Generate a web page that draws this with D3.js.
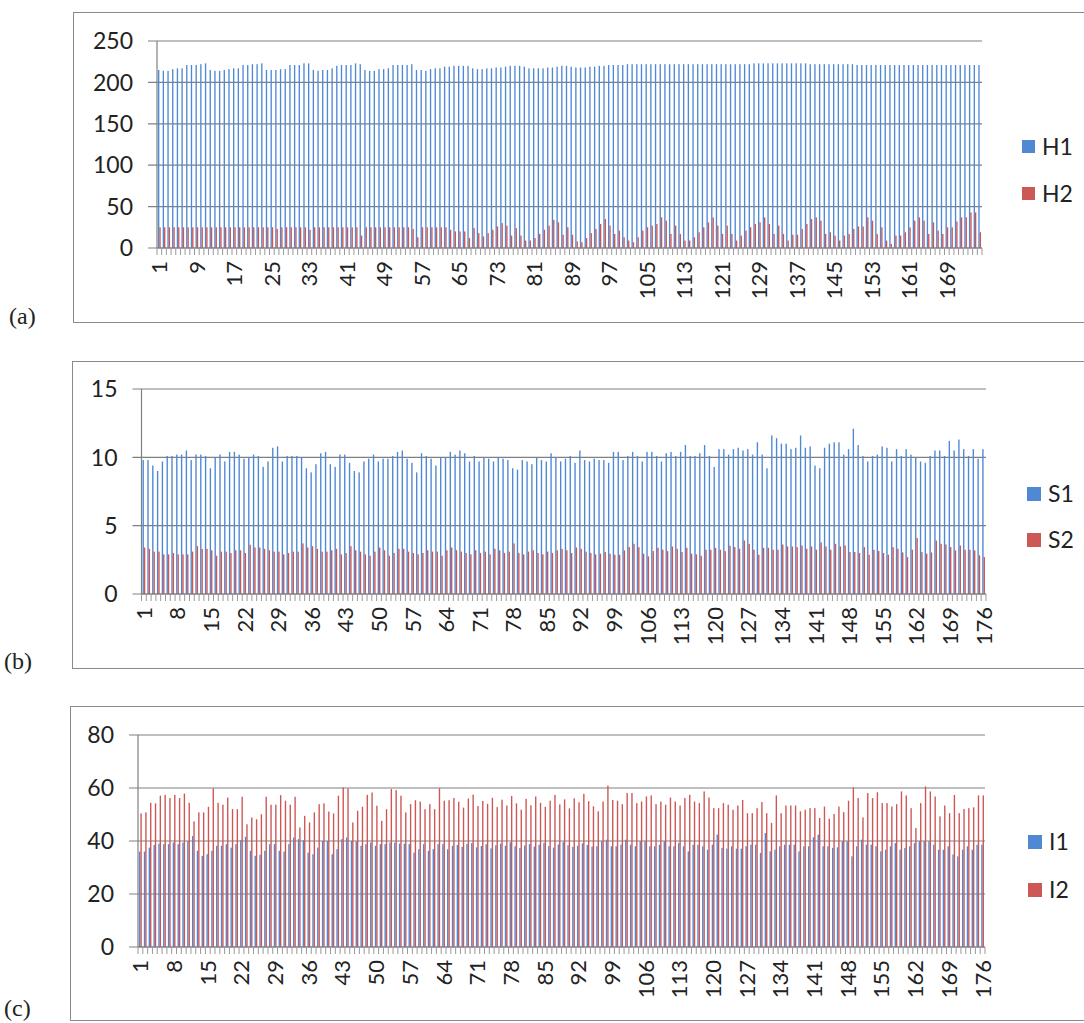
<!DOCTYPE html>
<html>
<head>
<meta charset="utf-8">
<script src="https://cdn.jsdelivr.net/npm/d3@7"></script>
<style>
  body { margin: 0; background: #fff; }
  svg { display: block; }
  text { font-family: Lato, "Open Sans", sans-serif; fill: #222; }
  .plabel { font-family: "Liberation Serif", "DejaVu Serif", serif; }
</style>
</head>
<body>
<script>
var categories = d3.range(1, 177);

var ticksA = [0, 50, 100, 150, 200, 250];
var ticksB = [0, 5, 10, 15];
var ticksC = [0, 20, 40, 60, 80];

var H1 = [215,214,214,216,217,217,221,221,221,222,223,215,214,214,215,216,217,217,221,221,222,222,223,215,215,
  215,216,216,221,221,221,223,223,215,214,215,215,217,220,221,221,221,223,222,215,214,214,216,216,217,
  221,221,221,221,222,215,215,214,216,217,217,219,219,220,220,220,220,217,216,216,217,217,218,218,219,
  220,220,220,219,217,217,217,217,218,218,219,220,220,219,218,218,218,219,219,220,220,221,221,221,221,
  222,222,222,222,222,222,222,222,222,222,222,222,222,222,222,222,222,222,222,222,222,222,222,222,222,
  222,222,223,223,223,223,223,223,223,223,223,223,223,223,222,222,222,222,222,222,222,222,222,222,221,
  221,221,221,221,221,221,221,221,221,221,221,221,221,221,221,221,221,221,221,221,221,221,221,221,221,221];
var H2 = [25,25,25,25,25,25,25,25,25,25,25,25,25,25,25,25,25,25,25,25,25,25,25,25,25,
  23,25,25,25,25,25,25,22,25,25,25,25,25,25,25,25,25,25,15,25,25,25,25,25,25,
  25,25,25,25,23,13,25,25,25,25,25,25,22,20,20,20,12,24,18,14,18,22,26,30,27,
  15,24,15,9,9,12,17,22,27,34,31,16,25,16,8,7,12,18,23,29,35,27,17,21,13,
  9,7,13,21,25,27,29,37,33,17,27,17,9,9,13,19,25,31,37,27,17,27,17,9,15,
  21,25,29,31,37,29,17,27,17,9,16,16,23,29,35,37,33,17,19,15,9,15,17,23,26,
  26,37,33,17,25,9,5,15,15,19,25,33,37,33,17,31,21,17,25,25,32,37,37,43,43,19];

var S1 = [9.8,9.8,9.4,9.0,9.7,10.1,10.1,10.2,10.2,10.5,9.8,10.2,10.2,10.1,9.2,10.0,10.2,9.7,10.4,10.4,10.2,9.9,10.0,10.2,10.1,
  9.3,9.7,10.7,10.8,9.7,10.1,10.1,10.1,10.0,9.2,8.9,9.5,10.3,10.4,9.5,9.3,10.2,10.2,9.6,9.0,8.9,9.7,9.9,10.2,9.7,
  9.9,9.9,10.1,10.4,10.5,9.9,9.6,8.9,10.3,10.1,9.9,9.4,10.0,10.0,10.4,10.2,10.5,10.3,9.7,10.1,9.7,10.0,9.9,9.7,10.0,
  9.9,9.8,9.2,9.1,9.8,9.7,9.5,10.0,9.8,9.7,10.3,10.0,9.7,9.9,10.1,9.6,10.5,9.8,9.7,9.9,9.8,9.8,9.6,10.4,10.4,
  9.8,10.1,10.4,10.1,9.7,10.4,10.4,10.1,9.7,10.3,10.4,10.1,10.4,10.9,10.1,10.1,10.3,10.9,10.1,9.3,10.6,10.6,10.2,10.6,10.7,
  10.5,10.6,10.2,11.1,10.2,9.2,11.6,11.4,11.0,11.0,10.6,10.7,11.6,10.7,10.8,9.4,9.2,10.7,11.0,11.1,11.1,10.2,10.6,12.1,10.9,
  10.1,9.7,10.1,10.2,10.8,10.7,9.7,10.6,10.1,10.6,10.2,10.0,9.7,9.6,10.1,10.5,10.5,10.1,11.2,10.5,11.3,10.6,10.1,10.6,9.9,10.6];
var S2 = [3.4,3.3,3.1,3.1,2.9,2.9,3.0,2.9,2.9,2.9,3.1,3.5,3.3,3.3,3.2,2.8,3.1,3.1,3.0,3.2,3.2,3.0,3.6,3.4,3.4,
  3.3,3.2,3.1,3.1,2.9,3.0,3.1,3.1,3.7,3.4,3.5,3.3,3.1,3.1,3.2,3.3,2.9,3.0,3.5,3.2,3.1,2.9,2.8,3.1,3.4,
  3.2,2.8,3.0,3.3,3.3,3.1,3.0,2.9,3.0,3.2,3.1,3.1,2.8,3.2,3.4,3.2,3.1,3.0,2.9,3.2,3.0,3.1,2.9,3.3,3.2,
  3.0,3.1,3.7,3.0,2.9,3.1,3.2,3.0,2.9,3.1,3.0,3.2,3.3,3.2,3.0,3.4,3.3,3.1,3.0,2.9,2.95,3.07,2.95,2.87,2.87,
  3.19,3.43,3.67,3.43,2.95,2.75,3.14,3.38,3.24,3.14,3.48,3.31,3.07,3.38,2.95,2.9,2.8,3.24,3.24,3.38,3.24,3.14,3.53,3.43,3.31,
  3.91,3.67,3.24,2.87,3.38,3.38,3.24,3.24,3.62,3.48,3.48,3.43,3.55,3.31,3.48,3.24,3.77,3.48,3.24,3.67,3.48,3.55,3.07,3.07,3.0,
  3.43,2.87,3.24,3.14,3.0,2.87,3.43,3.31,3.04,2.7,3.24,4.1,3.07,2.95,3.04,3.91,3.67,3.62,3.43,3.19,3.55,3.24,3.24,3.19,2.83,2.7];

var I1 = [36,36,37.5,38.5,39,38.8,38.8,39.4,38.8,39.4,40,41.9,36.3,34.4,35,36.3,38.2,38.2,38.8,37.5,38.8,40.3,41.6,36.3,34.4,
  34.8,36.3,38.8,38.8,36.3,36,38.8,41.3,40.7,40.3,35.6,35,37.5,40,40,35,36.9,40.7,41.3,40,39.8,38.2,38.8,39.4,38.2,
  38.8,38.8,39.4,39.4,39,39,38.8,35.6,36.9,38.8,36.3,36.9,38.8,38.8,36.9,38.2,38.5,37.8,38.9,39.2,37.6,38.1,38.8,37.2,38.4,
  39.0,38.2,39.5,38.0,37.4,38.3,38.8,37.9,38.6,39.3,38.1,37.5,38.7,39.6,38.4,37.8,38.2,39.1,38.5,37.9,38.0,39.9,40.5,38.0,38.0,
  38.6,40.5,38.6,38.0,39.9,39.9,38.0,38.0,38.6,39.9,38.0,38.0,39.2,38.0,36.1,38.6,38.6,38.0,36.7,38.6,42.4,37.4,37.1,38.0,37.1,
  37.1,38.0,38.6,38.6,35.5,43.0,36.1,36.7,38.0,38.6,38.6,38.6,36.1,38.0,38.0,41.4,42.4,38.0,38.0,37.4,37.6,39.9,39.9,34.2,38.0,
  40.5,38.6,38.6,38.0,36.1,36.7,38.0,39.2,36.7,37.4,38.0,39.2,39.9,39.9,39.9,38.6,36.7,36.7,38.0,34.9,34.2,36.7,38.0,36.7,38.6,38.6];
var I2 = [50.4,50.8,54.4,54.2,57.1,57.4,56.2,57.4,56.2,57.9,54.4,47.4,50.8,50.8,52.9,59.9,54.4,53.7,56.4,52.1,52.0,56.7,46.3,48.9,48.2,
  50.1,56.7,53.7,53.7,57.3,55.2,53.7,56.7,45.1,49.5,47.0,50.8,53.9,54.2,51.1,50.4,57.1,60.2,59.8,47.0,51.4,52.9,57.4,58.3,53.3,
  47.6,52.0,59.6,59.2,57.1,50.8,53.9,55.4,54.9,52.0,53.9,52.0,59.9,55.2,55.4,56.2,54.8,52.6,56.0,57.5,53.2,55.1,54.0,56.3,52.8,
  55.6,53.4,57.0,54.2,51.8,55.9,53.5,56.8,54.4,52.9,55.2,57.4,53.8,55.7,52.3,56.1,54.6,57.8,55.0,53.1,51.2,54.9,60.9,55.5,55.2,
  53.9,58.1,58.1,54.3,54.9,56.8,57.2,53.9,54.9,53.7,56.4,54.9,53.4,56.2,57.4,54.9,54.3,58.7,56.4,52.4,52.4,54.3,53.7,51.8,53.4,
  55.5,50.5,50.5,52.4,54.7,50.5,46.8,57.2,50.5,53.4,53.4,53.4,51.2,51.8,52.4,52.4,48.7,53.0,48.4,50.2,53.0,50.9,55.2,60.2,56.2,
  48.9,58.1,56.2,58.4,54.3,54.3,53.0,53.9,58.7,57.2,52.4,44.9,54.3,60.6,58.7,56.8,49.3,53.4,50.5,57.4,50.5,52.1,52.4,52.7,57.2,57.2];

var blue = "#4f89d4";
var red = "#cc5755";
var gridColor = "#808080";

var width = 1084, height = 1023;
var svg = d3.select("body").append("svg")
  .attr("width", width)
  .attr("height", height);

var panels = [
  {tag: "(a)", tagX: 9, tagY: 316, box: [73, 12, 322], plot: [157, 982, 41, 248],
   max: 250, ticks: ticksA, every: 8, names: ["H1", "H2"], s1: H1, s2: H2,
   legX: 1022, legY: [140, 187], legSize: 13},
  {tag: "(b)", tagX: 4, tagY: 661, box: [72, 361, 668], plot: [141.5, 986, 389, 594],
   max: 15, ticks: ticksB, every: 7, names: ["S1", "S2"], s1: S1, s2: S2,
   legX: 1027, legY: [487, 533], legSize: 14},
  {tag: "(c)", tagX: 4, tagY: 1008, box: [70, 706, 1020], plot: [138, 985, 735, 947],
   max: 80, ticks: ticksC, every: 7, names: ["I1", "I2"], s1: I1, s2: I2,
   legX: 1028, legY: [835, 883], legSize: 14}
];

panels.forEach(drawPanel);

function drawPanel(p) {
  var g = svg.append("g");
  var left = p.plot[0], right = p.plot[1], top = p.plot[2], bottom = p.plot[3];

  // outer chart frame, right edge runs off the page
  g.append("rect")
    .attr("x", p.box[0] + 0.5)
    .attr("y", p.box[1] + 0.5)
    .attr("width", width + 20 - p.box[0])
    .attr("height", p.box[2] - p.box[1])
    .attr("fill", "none")
    .attr("stroke", "#8a8a8a")
    .attr("stroke-width", 1);

  g.append("text")
    .attr("class", "plabel")
    .attr("x", p.tagX)
    .attr("y", p.tagY)
    .attr("dy", "0.35em")
    .style("font-size", "24px")
    .text(p.tag);

  var x0 = d3.scaleBand()
    .domain(categories)
    .range([left, right])
    .paddingInner(1.5 / 3.5)
    .paddingOuter(0.75 / 3.5);

  var x1 = d3.scaleBand()
    .domain([0, 1])
    .range([0, x0.bandwidth()]);

  var y = d3.scaleLinear()
    .domain([0, p.max])
    .range([bottom, top]);

  // gridlines with the tick stubs on the left
  g.append("g")
    .selectAll("line")
    .data(p.ticks)
    .enter().append("line")
    .attr("x1", left - 9)
    .attr("x2", right)
    .attr("y1", function(d) { return y(d); })
    .attr("y2", function(d) { return y(d); })
    .attr("stroke", gridColor)
    .attr("stroke-width", 1.2);

  g.append("g")
    .selectAll("text")
    .data(p.ticks)
    .enter().append("text")
    .attr("x", left - 24)
    .attr("y", function(d) { return y(d); })
    .attr("dy", "0.36em")
    .attr("text-anchor", "end")
    .style("font-size", "23px")
    .text(function(d) { return d; });

  var series = [p.s1, p.s2];
  var colors = [blue, red];
  series.forEach(function(vals, k) {
    g.append("g")
      .selectAll("rect")
      .data(vals)
      .enter().append("rect")
      .attr("x", function(d, i) { return x0(categories[i]) + x1(k); })
      .attr("width", x1.bandwidth())
      .attr("y", function(d) { return y(d); })
      .attr("height", function(d) { return bottom - y(d); })
      .attr("fill", colors[k]);
  });

  // axis lines
  g.append("line")
    .attr("x1", left).attr("x2", left)
    .attr("y1", top).attr("y2", bottom)
    .attr("stroke", gridColor).attr("stroke-width", 1.2);
  g.append("line")
    .attr("x1", left).attr("x2", right)
    .attr("y1", bottom).attr("y2", bottom)
    .attr("stroke", gridColor).attr("stroke-width", 1.2);

  // category boundary ticks
  var step = x0.step();
  g.append("g")
    .selectAll("line")
    .data(d3.range(categories.length + 1))
    .enter().append("line")
    .attr("x1", function(i) { return left + i * step; })
    .attr("x2", function(i) { return left + i * step; })
    .attr("y1", bottom)
    .attr("y2", bottom + 7)
    .attr("stroke", "#999")
    .attr("stroke-width", 1);

  var shown = categories.filter(function(c) { return (c - 1) % p.every === 0; });
  g.append("g")
    .selectAll("text")
    .data(shown)
    .enter().append("text")
    .attr("transform", function(c) {
      return "translate(" + (x0(c) + x0.bandwidth() / 2) + "," + (bottom + 13) + ") rotate(-90)";
    })
    .attr("dy", "0.36em")
    .attr("text-anchor", "end")
    .style("font-size", "22px")
    .text(function(c) { return c; });

  var leg = g.append("g")
    .selectAll("g")
    .data(p.names)
    .enter().append("g")
    .attr("transform", function(d, i) { return "translate(" + p.legX + "," + p.legY[i] + ")"; });
  leg.append("rect")
    .attr("width", p.legSize)
    .attr("height", p.legSize)
    .attr("fill", function(d, i) { return colors[i]; });
  leg.append("text")
    .attr("x", p.legSize + 7)
    .attr("y", p.legSize / 2)
    .attr("dy", "0.36em")
    .style("font-size", "23px")
    .text(function(d) { return d; });
}
</script>
</body>
</html>
